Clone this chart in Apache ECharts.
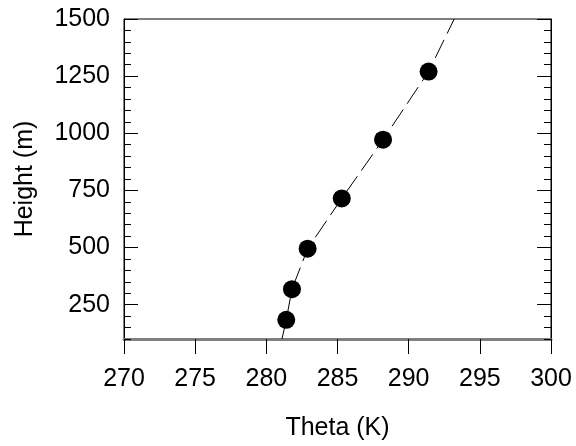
<!DOCTYPE html>
<html>
<head>
<meta charset="utf-8">
<script src="https://cdn.jsdelivr.net/npm/echarts@6/dist/echarts.min.js"></script>
<style>html,body{margin:0;padding:0;background:#fff}#c{width:576px;height:446px}</style>
</head>
<body>
<div id="c"></div>
<script>
// Observed points
const theta = [281.4, 281.8, 282.9, 285.3, 288.2, 291.4];
const height = [184, 318, 495, 715, 972, 1270];
// Dashed profile line
const lineTheta = [281.1, 281.4, 281.8, 282.9, 285.3, 288.2, 291.4, 293.2];
const lineHeight = [100, 184, 318, 495, 715, 972, 1270, 1500];
// Ticks
const xTicks = [270, 275, 280, 285, 290, 295, 300];
const yMajorTicks = [250, 500, 750, 1000, 1250, 1500];
const yMinorTicks = [100,150,200,300,350,400,450,550,600,650,700,800,850,900,950,1050,1100,1150,1200,1300,1350,1400,1450];

const FONT = 'Liberation Sans, Arial, sans-serif';
const FS = 25;
const chart = echarts.init(document.getElementById('c'), null, {renderer: 'canvas'});

function yAx(pos, major, showLabel, name) {
  return {
    type: 'value', position: pos, min: 100, max: 1500,
    axisLine: {show: major, onZero: false, lineStyle: {color: '#000', width: 1}},
    axisTick: {show: true, inside: true, length: major ? 14 : 7,
      customValues: major ? yMajorTicks : yMinorTicks, lineStyle: {color: '#000', width: 1}},
    axisLabel: {show: showLabel, customValues: yMajorTicks, color: '#000', fontSize: FS, fontFamily: FONT, margin: 14,
      formatter: v => String(v)},
    splitLine: {show: false},
    name: name || '', nameLocation: 'middle', nameGap: 86,
    nameTextStyle: {color: '#000', fontSize: FS, fontFamily: FONT}
  };
}

chart.setOption({
  animation: false,
  backgroundColor: '#fff',
  grid: {left: 124, top: 19, width: 427, height: 321, show: true, borderColor: '#000', borderWidth: 1, backgroundColor: 'transparent'},
  xAxis: [{
    type: 'value', min: 270, max: 300, interval: 5, position: 'bottom',
    axisLine: {show: true, onZero: false, lineStyle: {color: '#808080', width: 3}},
    axisTick: {show: true, inside: false, length: 15, customValues: xTicks, lineStyle: {color: '#000', width: 1}},
    axisLabel: {customValues: xTicks, color: '#000', fontSize: FS, fontFamily: FONT, margin: 28,
      formatter: v => String(v)},
    splitLine: {show: false},
    name: 'Theta (K)', nameLocation: 'middle', nameGap: 77,
    nameTextStyle: {color: '#000', fontSize: FS, fontFamily: FONT}
  }],
  yAxis: [
    yAx('left', true, true, 'Height (m)'),
    yAx('left', false, false),
    yAx('right', true, false),
    yAx('right', false, false)
  ],
  series: [
    {
      type: 'line', xAxisIndex: 0, yAxisIndex: 0,
      data: lineTheta.map((t, i) => [t, lineHeight[i]]),
      symbol: 'none', smooth: false,
      lineStyle: {color: '#000', width: 1, type: [20, 7]},
      z: 2
    },
    {
      type: 'scatter', xAxisIndex: 0, yAxisIndex: 0,
      data: theta.map((t, i) => [t, height[i]]),
      symbol: 'circle', symbolSize: 18,
      itemStyle: {color: '#000', opacity: 1},
      z: 3
    }
  ]
});
</script>
</body>
</html>
